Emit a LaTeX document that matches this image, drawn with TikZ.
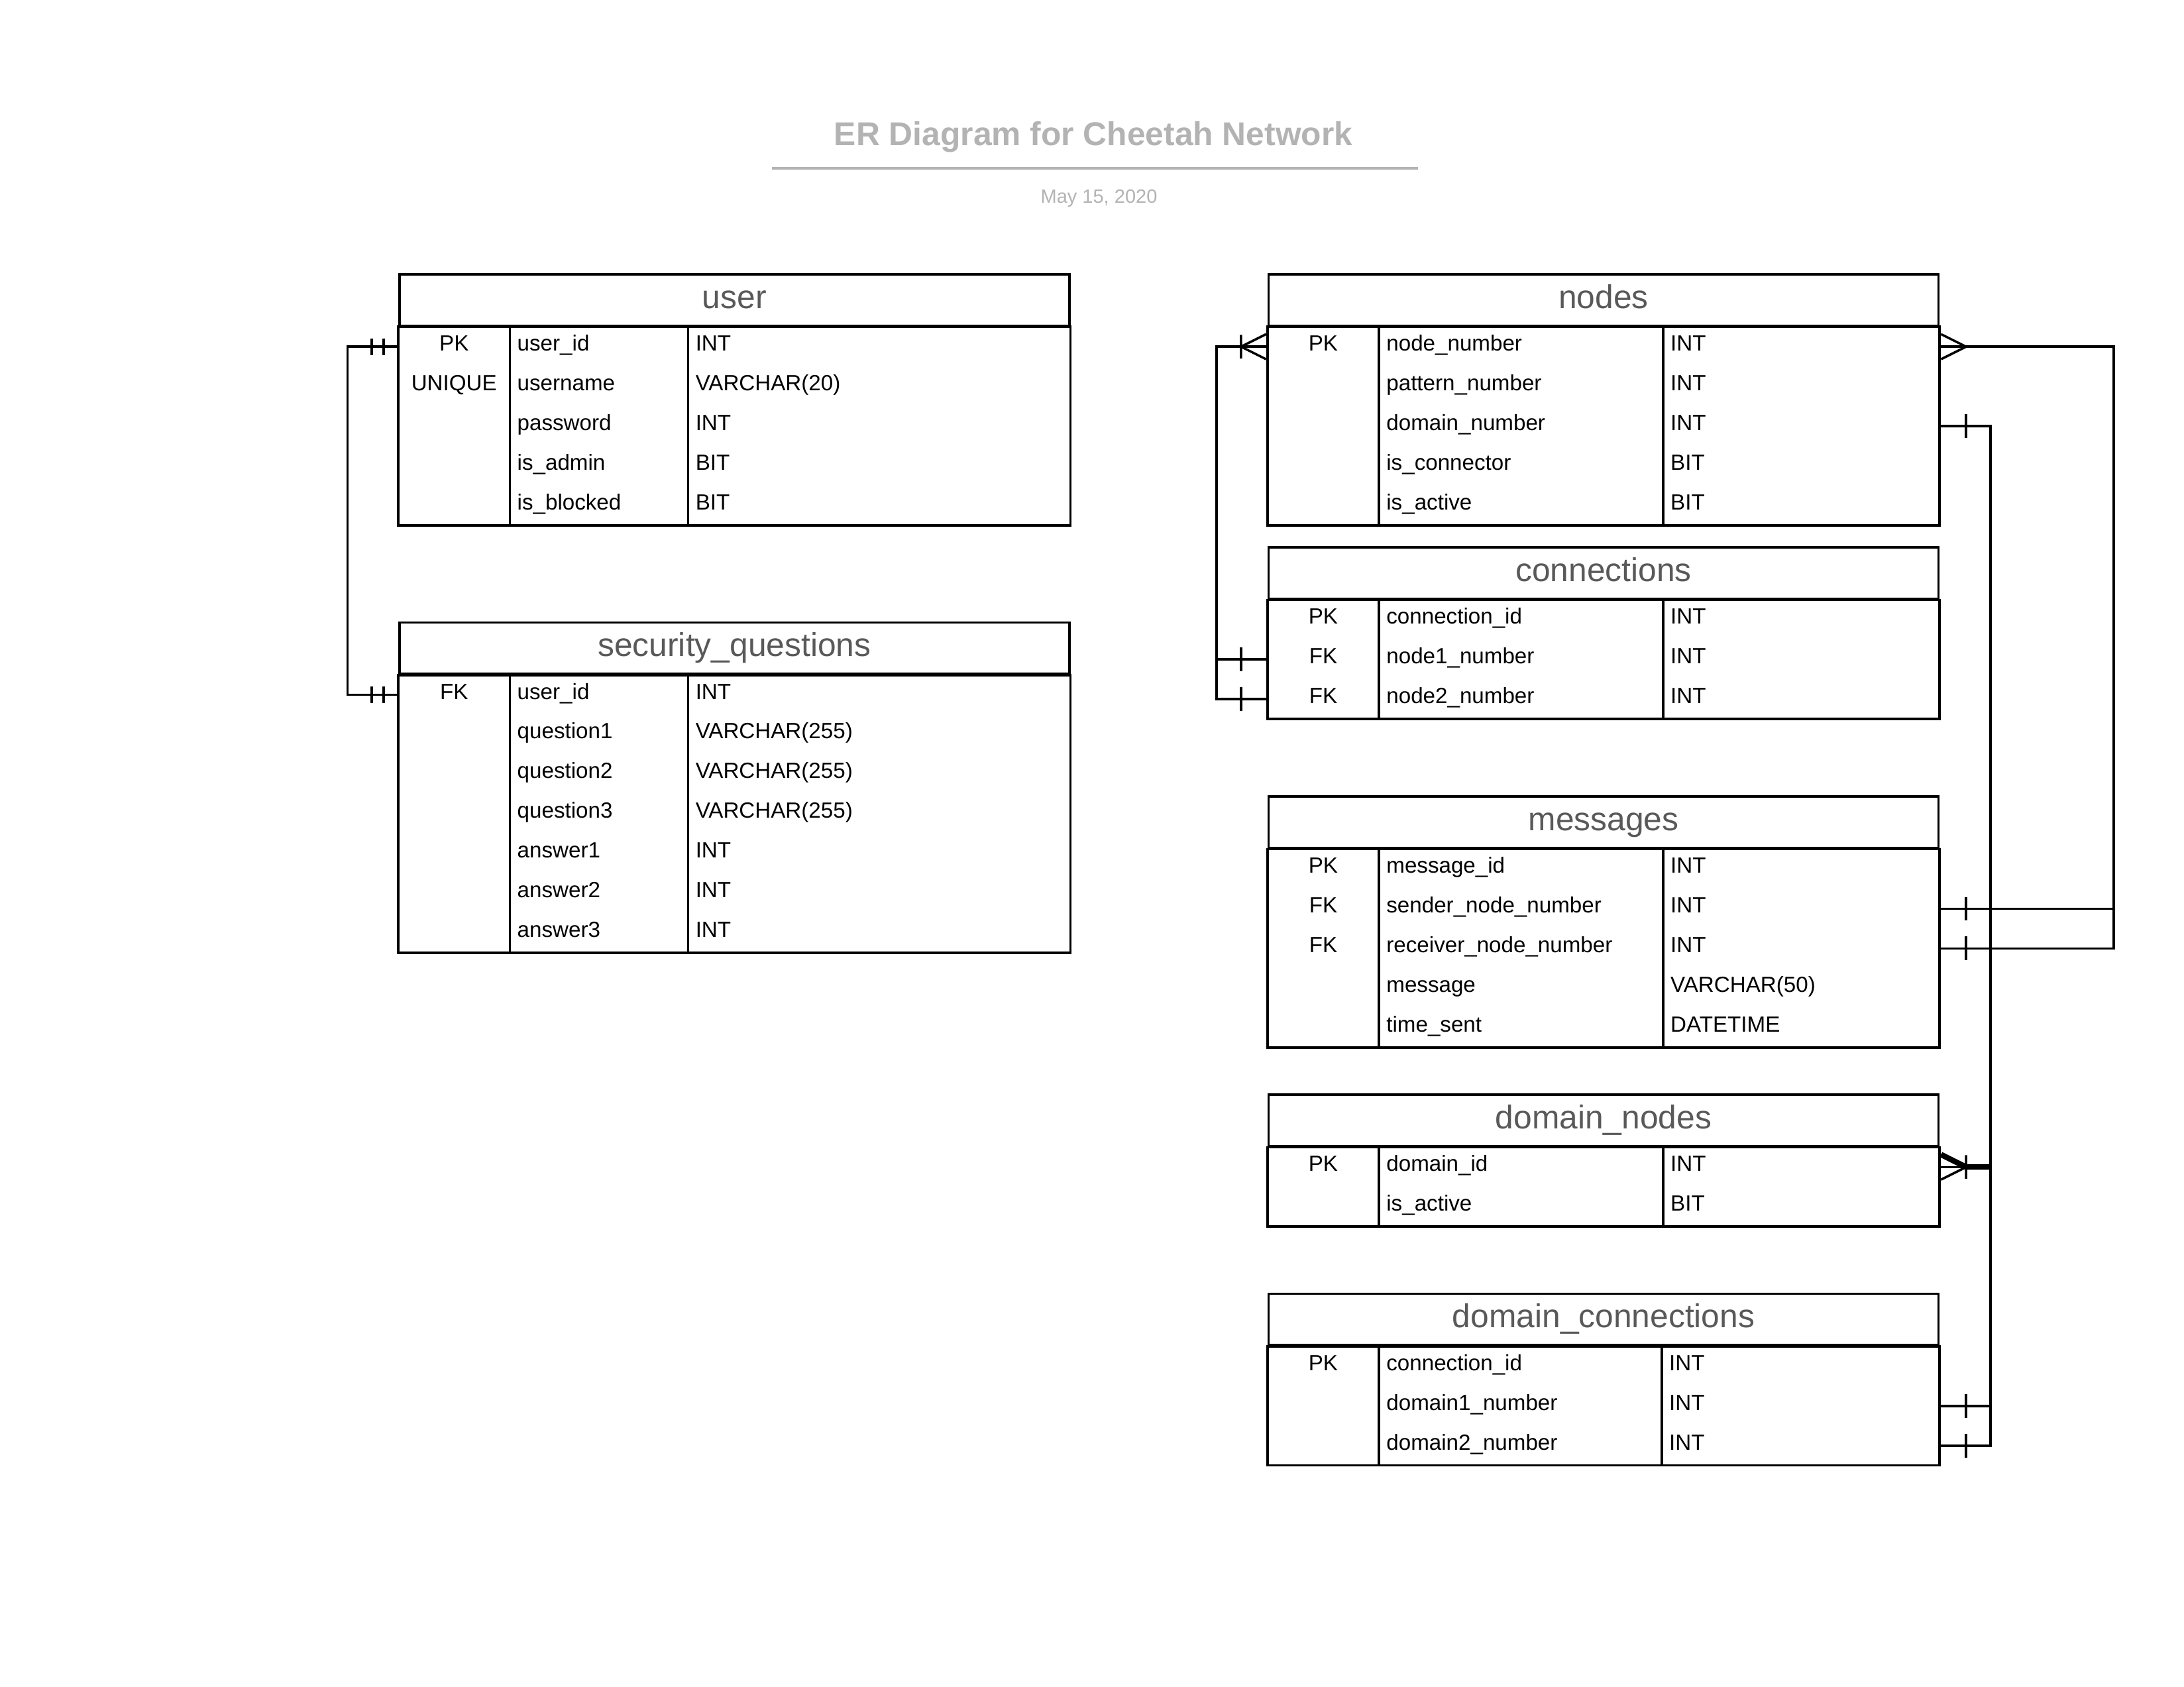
\documentclass[tikz,border=0pt]{standalone}
\usepackage{fontspec}
\setmainfont{Liberation Sans}
\usetikzlibrary{calc}

\definecolor{titlegray}{HTML}{B3B3B3}
\definecolor{headgray}{HTML}{595959}

\tikzset{
  entline/.style={line width=0.85pt},
  enthead/.style={draw, entline, minimum width=8.57cm, minimum height=0.659cm, inner sep=0pt,
    text height=8.6pt, text depth=2.5pt, font=\fontsize{12}{14}\selectfont, text=headgray},
  keytext/.style={anchor=base, inner sep=0pt, font=\fontsize{8}{10}\selectfont},
  fieldtext/.style={anchor=base west, inner sep=0pt, font=\fontsize{8}{10}\selectfont},
  conn/.style={line width=0.85pt},
  pics/onebar/.style={code={\draw[conn] (-19,-8.5) -- (-19,8.5);}},
  pics/twobars/.style={code={\draw[conn] (-10.5,-6) -- (-10.5,6) (-19,-6) -- (-19,6);}},
  pics/crowmany/.style={code={\draw[conn] (-1,-9) -- (-19,0) -- (-1,9);}},
  pics/crowone/.style={code={\draw[conn] (-1,-9) -- (-19,0) -- (-1,9) (-19,-8.5) -- (-19,8.5);}},
}

% table: name, title, x, y, third column, rows key/field/type
\newcommand{\erentity}[6]{%
  \node[enthead, anchor=north west] (#1) at (#3,#4) {#2};
  \foreach \k/\f/\t [count=\i] in {#6} {
    \coordinate (#1-\i) at ($(#1.south west)+(0,{(\i-0.5)*28.5})$);
    \coordinate (#1-\i-e) at ($(#1.south east)+(0,{(\i-0.5)*28.5})$);
    \node[keytext] (#1-k\i) at ($(#1-\i)+(40,3)$) {\k};
    \node[fieldtext] (#1-f\i) at ($(#1-\i)+(85,3)$) {\f};
    \node[fieldtext] (#1-t\i) at ($(#1-\i)+({#5+5},3)$) {\t};
    \xdef\nrows{\i}
  }
  \draw[entline] (#1.south west) rectangle ($(#1.south east)+(0,{\nrows*28.5})$);
  \draw[entline] ($(#1.south west)+(80,0)$) -- ($(#1.south west)+(80,{\nrows*28.5})$);
  \draw[entline] ($(#1.south west)+(#5,0)$) -- ($(#1.south west)+(#5,{\nrows*28.5})$);
}

\begin{document}
\begin{tikzpicture}[x=0.01782cm, y=-0.01782cm]
  \useasboundingbox (0,0) rectangle (1568,1211);

  % title
  \node[font=\bfseries\fontsize{12}{14}\selectfont, text=titlegray] (title) at (785,98.5) {ER Diagram for Cheetah Network};
  \draw[titlegray, line width=1pt] (554,121) -- (1018,121);
  \node[font=\fontsize{7}{8}\selectfont, text=titlegray] (date) at (789,142.5) {May 15, 2020};

  % tables
  \erentity{user}{user}{286}{196}{208}{PK/user\_id/INT, UNIQUE/username/VARCHAR(20), /password/INT, /is\_admin/BIT, /is\_blocked/BIT}
  \erentity{questions}{security\_questions}{286}{446}{208}{FK/user\_id/INT, /question1/VARCHAR(255), /question2/VARCHAR(255), /question3/VARCHAR(255), /answer1/INT, /answer2/INT, /answer3/INT}
  \erentity{nodes}{nodes}{910}{196}{284}{PK/node\_number/INT, /pattern\_number/INT, /domain\_number/INT, /is\_connector/BIT, /is\_active/BIT}
  \erentity{conns}{connections}{910}{392}{284}{PK/connection\_id/INT, FK/node1\_number/INT, FK/node2\_number/INT}
  \erentity{msgs}{messages}{910}{571}{284}{PK/message\_id/INT, FK/sender\_node\_number/INT, FK/receiver\_node\_number/INT, /message/VARCHAR(50), /time\_sent/DATETIME}
  \erentity{dnodes}{domain\_nodes}{910}{785}{284}{PK/domain\_id/INT, /is\_active/BIT}
  \erentity{dconns}{domain\_connections}{910}{928}{283}{PK/connection\_id/INT, /domain1\_number/INT, /domain2\_number/INT}

  % user -- security_questions
  \draw[conn] (user-1) -- ++(-36.5,0) |- (questions-1);
  \pic at (user-1) {twobars};
  \pic at (questions-1) {twobars};

  % nodes -- connections
  \draw[conn] (nodes-1) -- ++(-36.5,0) |- (conns-3);
  \draw[conn] (conns-2) -- ++(-36.5,0);
  \pic at (nodes-1) {crowone};
  \pic at (conns-2) {onebar};
  \pic at (conns-3) {onebar};

  % nodes -- messages
  \draw[conn] (nodes-1-e) -- ++(125,0) |- (msgs-3-e);
  \draw[conn] (msgs-2-e) -- ++(125,0);
  \pic[xscale=-1] at (nodes-1-e) {crowmany};
  \pic[xscale=-1] at (msgs-2-e) {onebar};
  \pic[xscale=-1] at (msgs-3-e) {onebar};

  % nodes -- domain_nodes -- domain_connections
  \draw[conn] (nodes-3-e) -- ++(36.5,0) |- (dnodes-1-e);
  \draw[conn] (dconns-2-e) -- ++(36.5,0);
  \draw[conn] (dconns-3-e) -- ++(36.5,0) |- (dnodes-1-e);
  \pic[xscale=-1] at (nodes-3-e) {onebar};
  \pic[xscale=-1] at (dconns-2-e) {onebar};
  \pic[xscale=-1] at (dconns-3-e) {onebar};
  \pic[xscale=-1] at (dnodes-1-e) {crowone};
  \draw[conn, line width=2pt] ($(dnodes-1-e)+(1,-9)$) -- ($(dnodes-1-e)+(19,0)$) -- ++(17.5,0);
\end{tikzpicture}
\end{document}
